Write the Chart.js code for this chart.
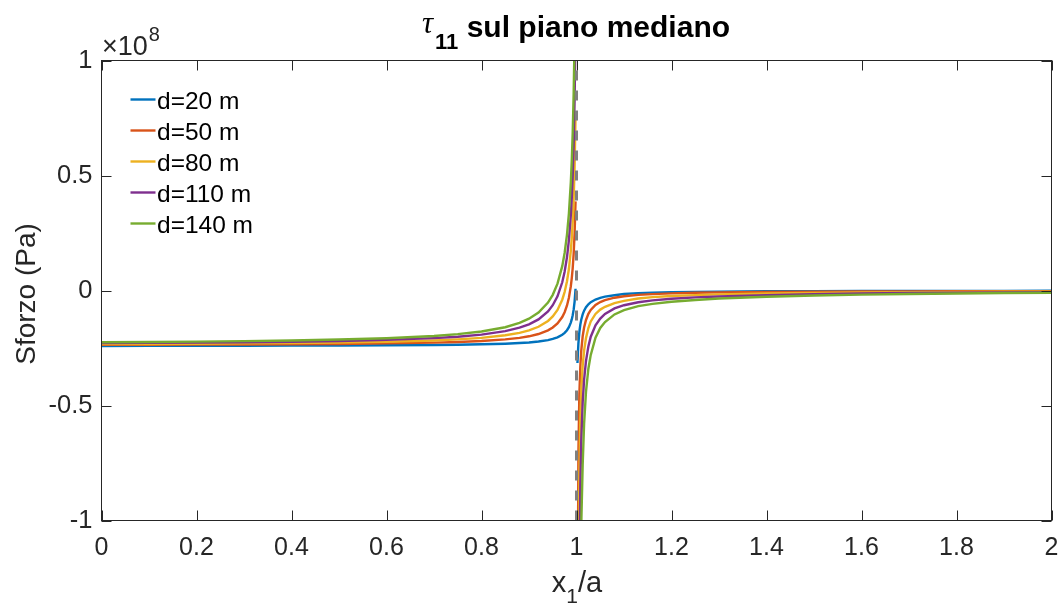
<!DOCTYPE html>
<html>
<head>
<meta charset="utf-8">
<script src="https://cdn.jsdelivr.net/npm/chart.js@4.4.0/dist/chart.umd.min.js"></script>
<style>
  html, body { margin: 0; padding: 0; background: #ffffff; }
  canvas { display: block; }
</style>
</head>
<body>
<canvas id="c" width="1064" height="607"></canvas>
<script>
// ---- data (stress in units of 1e8 Pa) ----
const SCALE = 1e8;
const x1a = [0, 0.1, 0.2, 0.3, 0.4, 0.5, 0.6, 0.7, 0.75, 0.8, 0.85, 0.88, 0.9, 0.92, 0.94, 0.95, 0.96, 0.97, 0.975, 0.98, 0.984, 0.988, 0.99, 0.992, 0.994, 0.996, 0.998,
  1,
  1.002, 1.004, 1.006, 1.008, 1.01, 1.013, 1.016, 1.02, 1.025, 1.03, 1.04, 1.05, 1.06, 1.08, 1.1, 1.13, 1.16, 1.2, 1.25, 1.3, 1.4, 1.5, 1.6, 1.7, 1.8, 1.9, 2.0];

const d20 = [-0.241, -0.2406, -0.2403, -0.2400, -0.2396, -0.2390, -0.2382, -0.2368, -0.2356, -0.2340, -0.2312, -0.2285, -0.2258, -0.2219, -0.2156, -0.2107, -0.2036, -0.1925, -0.1842, -0.1725, -0.1592, -0.1396, -0.1258, -0.1079, -0.0834, -0.0481, 0.0075,
  null,
  -0.315, -0.23, -0.181, -0.149, -0.127, -0.104, -0.0876, -0.0726, -0.0599, -0.0509, -0.0392, -0.0318, -0.0268, -0.0204, -0.015, -0.0115, -0.0093, -0.0074, -0.0058, -0.0048, -0.0035, -0.0028, -0.0023, -0.0019, -0.0017, -0.0015, -0.0013];

const d50 = [-0.2366, -0.2361, -0.2355, -0.2348, -0.2337, -0.2323, -0.2301, -0.2266, -0.2237, -0.2195, -0.2126, -0.2058, -0.1991, -0.1892, -0.1733, -0.161, -0.1432, -0.1153, -0.0943, -0.065, -0.0315, 0.0178, 0.0523, 0.0975, 0.159, 0.2479, 0.3876,
  null,
  -1.6, -0.713, -0.4535, -0.332, -0.262, -0.199, -0.161, -0.128, -0.1017, -0.0844, -0.0631, -0.0503, -0.0418, -0.0313, -0.025, -0.0192, -0.0156, -0.0125, -0.01, -0.0083, -0.0062, -0.005, -0.0042, -0.0036, -0.0031, -0.0028, -0.0025];

const d80 = [-0.233, -0.2323, -0.2313, -0.2301, -0.2284, -0.2261, -0.2227, -0.2171, -0.2126, -0.2059, -0.1948, -0.184, -0.1733, -0.1576, -0.1323, -0.1127, -0.0844, -0.04, -0.0067, 0.04, 0.0933, 0.1718, 0.2267, 0.2985, 0.3964, 0.5378, 0.76,
  null,
  -2.0, -1.35, -0.795, -0.564, -0.437, -0.327, -0.261, -0.206, -0.163, -0.1345, -0.102, -0.083, -0.071, -0.055, -0.045, -0.035, -0.029, -0.024, -0.02, -0.017, -0.013, -0.0105, -0.0088, -0.0075, -0.0065, -0.0057, -0.005];

const d110 = [-0.229, -0.2279, -0.2266, -0.2249, -0.2226, -0.2195, -0.2148, -0.207, -0.2009, -0.1917, -0.1766, -0.1617, -0.1471, -0.1256, -0.0908, -0.064, -0.0252, 0.0358, 0.0815, 0.1455, 0.2186, 0.3262, 0.4015, 0.5, 0.6342, 0.8282, 1.1329,
  null,
  -2.6, -2.1, -1.22, -0.85, -0.655, -0.487, -0.388, -0.306, -0.243, -0.201, -0.151, -0.122, -0.102, -0.078, -0.064, -0.051, -0.043, -0.036, -0.030, -0.026, -0.020, -0.016, -0.013, -0.011, -0.0095, -0.0083, -0.0073];

const d140 = [-0.2251, -0.2237, -0.2221, -0.22, -0.2172, -0.2132, -0.2074, -0.1977, -0.1899, -0.1785, -0.1596, -0.141, -0.1227, -0.0958, -0.0524, -0.0188, 0.0297, 0.1059, 0.163, 0.243, 0.3344, 0.4689, 0.563, 0.6861, 0.8539, 1.0963, 1.4773,
  null,
  -3.0, -1.7, -1.35, -1.15, -1.02, -0.76, -0.58, -0.44, -0.34, -0.28, -0.205, -0.163, -0.137, -0.104, -0.085, -0.068, -0.058, -0.049, -0.041, -0.035, -0.027, -0.022, -0.018, -0.015, -0.013, -0.011, -0.0095];

const seriesLabels = ['d=20 m', 'd=50 m', 'd=80 m', 'd=110 m', 'd=140 m'];
const seriesValues = [d20, d50, d80, d110, d140];
const seriesColors = ['#0072BD', '#D95319', '#EDB120', '#7E2F8E', '#77AC30'];

const asymptoteX = 1;
const xTicks = [0, 0.2, 0.4, 0.6, 0.8, 1, 1.2, 1.4, 1.6, 1.8, 2];
const yTicks = [-1, -0.5, 0, 0.5, 1];

const FONT = '"Liberation Sans", Arial, Helvetica, sans-serif';
const TXT = '#262626';

const datasets = seriesValues.map((vals, k) => ({
  label: seriesLabels[k],
  data: x1a.map((x, i) => ({ x: x, y: vals[i] === null ? null : vals[i] * SCALE })),
  borderColor: seriesColors[k],
  backgroundColor: seriesColors[k],
  borderWidth: 2.4,
  pointRadius: 0,
  tension: 0,
  spanGaps: false,
  clip: 0,
  order: 5 - k
}));
datasets.push({
  label: 'asintoto',
  data: [{ x: asymptoteX, y: yTicks[0] * SCALE }, { x: asymptoteX, y: yTicks[yTicks.length - 1] * SCALE }],
  borderColor: '#7f7f7f',
  borderWidth: 3,
  borderDash: [10, 10],
  pointRadius: 0,
  clip: 0,
  order: 0
});

function line(ctx, x0, y0, x1, y1) {
  ctx.beginPath(); ctx.moveTo(x0, y0); ctx.lineTo(x1, y1); ctx.stroke();
}

const decor = {
  id: 'decor',
  afterDraw(chart) {
    const ctx = chart.ctx;
    const { left, right, top, bottom } = chart.chartArea;
    const xs = chart.scales.x, ys = chart.scales.y;
    ctx.save();
    // box + inward ticks
    ctx.strokeStyle = TXT; ctx.lineWidth = 1;
    ctx.strokeRect(left, top, right - left, bottom - top);
    const TL = 10;
    xTicks.forEach(v => {
      const p = Math.round(xs.getPixelForValue(v)) + 0.5;
      line(ctx, p, bottom, p, bottom - TL);
      line(ctx, p, top, p, top + TL);
    });
    yTicks.forEach(v => {
      const p = Math.round(ys.getPixelForValue(v * SCALE)) + 0.5;
      line(ctx, left, p, left + TL, p);
      line(ctx, right, p, right - TL, p);
    });

    // exponent label
    ctx.fillStyle = TXT;
    ctx.textBaseline = 'alphabetic';
    ctx.textAlign = 'left';
    ctx.font = '27px ' + FONT;
    const t1 = '\u00d710';
    ctx.fillText(t1, 102, 55);
    const w1 = ctx.measureText(t1).width;
    ctx.font = '20px ' + FONT;
    ctx.fillText('8', 102 + w1 + 1, 41);

    // title
    ctx.fillStyle = '#000000';
    const tauFont = 'italic 31px "Liberation Serif", "DejaVu Serif", serif';
    const subFont = 'bold 22px ' + FONT;
    const mainFont = 'bold 30px ' + FONT;
    ctx.font = tauFont;
    const wT = ctx.measureText('\u03c4').width;
    ctx.font = subFont;
    const w11 = ctx.measureText('11').width;
    ctx.font = mainFont;
    const rest = ' sul piano mediano';
    const wR = ctx.measureText(rest).width;
    const total = wT + 2 + w11 + wR;
    let tx = 576 - total / 2;
    ctx.font = tauFont;
    ctx.fillText('\u03c4', tx, 33);
    tx += wT + 2;
    ctx.font = subFont;
    ctx.fillText('11', tx, 49);
    tx += w11;
    ctx.font = mainFont;
    ctx.fillText(rest, tx, 37);

    // x label: x_1/a
    ctx.fillStyle = TXT;
    ctx.font = '29px ' + FONT;
    const wx = ctx.measureText('x').width;
    const wa = ctx.measureText('/a').width;
    ctx.font = '21px ' + FONT;
    const ws = ctx.measureText('1').width;
    let lx = 577 - (wx + ws + wa) / 2;
    ctx.font = '29px ' + FONT;
    ctx.fillText('x', lx, 592);
    lx += wx;
    ctx.font = '21px ' + FONT;
    ctx.fillText('1', lx, 603);
    lx += ws;
    ctx.font = '29px ' + FONT;
    ctx.fillText('/a', lx, 592);

    // y label
    ctx.save();
    ctx.translate(35, 294);
    ctx.rotate(-Math.PI / 2);
    ctx.textAlign = 'center';
    ctx.font = '28px ' + FONT;
    ctx.fillText('Sforzo (Pa)', 0, 0);
    ctx.restore();

    // legend
    ctx.font = '24.5px ' + FONT;
    ctx.textAlign = 'left';
    seriesLabels.forEach((lab, k) => {
      const ry = 99.5 + k * 31;
      ctx.strokeStyle = seriesColors[k];
      ctx.lineWidth = 2.4;
      line(ctx, 130.5, ry, 155.5, ry);
      ctx.fillStyle = '#000000';
      ctx.fillText(lab, 157, ry + 9);
    });
    ctx.restore();
  }
};

new Chart(document.getElementById('c'), {
  type: 'line',
  data: { datasets: datasets },
  options: {
    responsive: false,
    devicePixelRatio: 1,
    animation: false,
    events: [],
    layout: { padding: { left: 0, right: 12.5, top: 60.5, bottom: 0 } },
    plugins: { legend: { display: false }, tooltip: { enabled: false }, title: { display: false } },
    scales: {
      x: {
        type: 'linear', min: 0, max: 2,
        afterBuildTicks: (s) => { s.ticks = xTicks.map(v => ({ value: v })); },
        ticks: {
          callback: (v) => String(Math.round(v * 10) / 10),
          font: { family: FONT, size: 25 }, color: TXT, padding: 13, maxRotation: 0, autoSkip: false
        },
        grid: { display: false, drawTicks: false },
        border: { display: false },
        afterFit: (s) => { s.height = 86.5; s.paddingLeft = 0; s.paddingRight = 0; }
      },
      y: {
        type: 'linear', min: yTicks[0] * SCALE, max: yTicks[yTicks.length - 1] * SCALE,
        afterBuildTicks: (s) => { s.ticks = yTicks.map(v => ({ value: v * SCALE })); },
        ticks: {
          callback: (v) => String(Math.round(v / SCALE * 10) / 10),
          font: { family: FONT, size: 25.5 }, color: TXT, padding: 9, autoSkip: false
        },
        grid: { display: false, drawTicks: false },
        border: { display: false },
        afterFit: (s) => { s.width = 101.5; s.paddingTop = 0; s.paddingBottom = 0; }
      }
    }
  },
  plugins: [decor]
});
</script>
</body>
</html>
